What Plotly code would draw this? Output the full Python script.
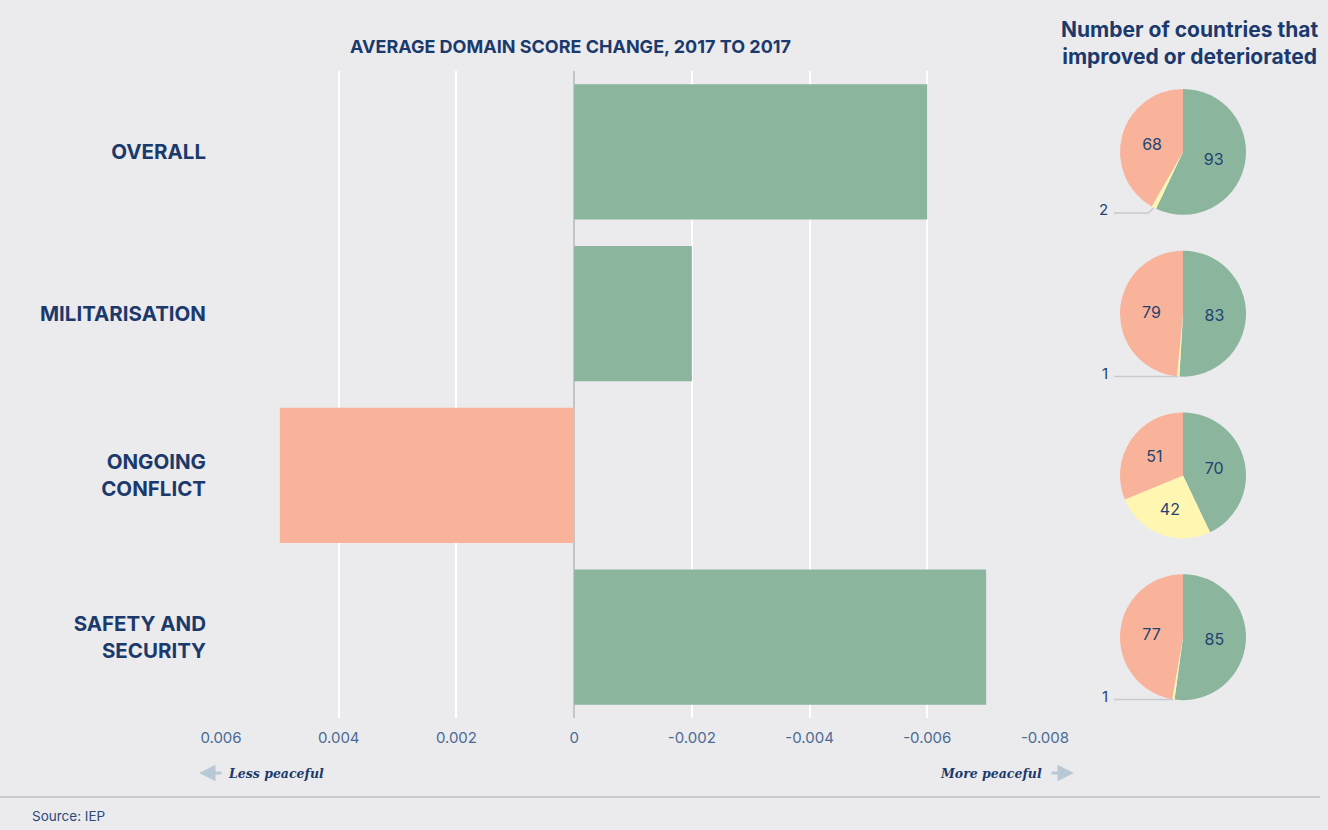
import math
import plotly.graph_objects as go

# data
domains = ["OVERALL", "MILITARISATION", "ONGOING<br>CONFLICT", "SAFETY AND<br>SECURITY"]
score_change = [-0.006, -0.002, 0.005, -0.007]
improved = [93, 83, 70, 85]
no_change = [2, 1, 42, 1]
deteriorated = [68, 79, 51, 77]
tick_vals = [0.006, 0.004, 0.002, 0, -0.002, -0.004, -0.006, -0.008]
tick_text = ["0.006", "0.004", "0.002", "0", "-0.002", "-0.004", "-0.006", "-0.008"]

GREEN = "#8bb59d"
SALMON = "#f8b39a"
YELLOW = "#fff6b2"
NAVY = "#1b3a6b"
TICK = "#4a6a93"
BG = "#ebebee"
SANS = "Inter, Roboto, sans-serif"
SERIF = "DejaVu Serif, Liberation Serif, serif"

# the page ends up 1320 wide in the viewer, so lay out against that
W, H = 1320, 830
ML, MR, MT, MB = 221, 20, 71, 112
PW, PH = W - ML - MR, H - MT - MB
XAX_RIGHT = 1045


def px_x(x):
    return (x - ML) / PW


def px_y(y):
    return (H - MB - y) / PH


fig = go.Figure()

fig.add_trace(go.Bar(
    x=score_change,
    y=domains,
    orientation="h",
    marker=dict(color=[GREEN if v < 0 else SALMON for v in score_change], line=dict(width=0)),
    width=0.835,
    showlegend=False,
    hoverinfo="x+y",
))

# pies, one per domain row
slot = PH / len(domains)
pie_cx = 1183
pie_r = 63
for i, name in enumerate(domains):
    cy = MT + slot * (i + 0.5)
    vals = [improved[i], no_change[i], deteriorated[i]]
    total = sum(vals)
    txt = [str(v) if v / total > 0.05 else "" for v in vals]
    fig.add_trace(go.Pie(
        values=vals,
        labels=["Improved", "No change", "Deteriorated"],
        text=txt,
        textinfo="text",
        textposition="inside",
        insidetextorientation="horizontal",
        textfont=dict(family=SANS, size=16, color="#1f4370"),
        marker=dict(colors=[GREEN, YELLOW, SALMON], line=dict(width=0)),
        sort=False,
        direction="clockwise",
        rotation=0,
        domain=dict(x=[px_x(pie_cx - pie_r), px_x(pie_cx + pie_r)],
                    y=[px_y(cy + pie_r), px_y(cy - pie_r)]),
        showlegend=False,
        hoverinfo="label+value",
    ))

    # leader line for tiny "no change" slices
    if no_change[i] / total <= 0.05:
        mid = (improved[i] + no_change[i] / 2) / total * 2 * math.pi
        ex = pie_cx + pie_r * math.sin(mid)
        ey = cy - pie_r * math.cos(mid)
        ly = max(ey, cy + pie_r * 0.97)
        bend_x = ex - (ly - ey)
        start_x = 1114
        fig.add_shape(
            type="path", xref="paper", yref="paper",
            path=f"M {px_x(start_x)} {px_y(ly)} L {px_x(bend_x)} {px_y(ly)} L {px_x(ex)} {px_y(ey)}",
            line=dict(color="#c9cacd", width=1.5),
        )
        fig.add_annotation(
            x=px_x(start_x - 4), y=px_y(ly - 3), xref="paper", yref="paper",
            text=str(no_change[i]), showarrow=False, xanchor="right", yanchor="middle",
            font=dict(family=SANS, size=15, color="#1f4370"),
        )

fig.update_xaxes(
    range=[0.006, -0.008],
    domain=[0, px_x(XAX_RIGHT)],
    tickvals=tick_vals,
    ticktext=tick_text,
    tickfont=dict(family=SANS, size=15, color=TICK),
    showgrid=True, gridcolor="white", gridwidth=1.5,
    zeroline=True, zerolinecolor="#c4c5c9", zerolinewidth=1.5,
    showline=False, ticks="", ticklabelstandoff=9,
    automargin=False, fixedrange=True,
)
fig.update_yaxes(
    autorange="reversed",
    tickfont=dict(family=SANS, size=20.5, color=NAVY, weight="bold"),
    showgrid=False, zeroline=False, showline=False,
    ticks="", ticklabelstandoff=14,
    automargin=False, fixedrange=True,
)

# titles
fig.add_annotation(
    x=px_x(570), y=px_y(46), xref="paper", yref="paper",
    xanchor="center", yanchor="middle",
    text="<b>AVERAGE DOMAIN SCORE CHANGE, 2017 TO 2017</b>", showarrow=False,
    font=dict(family=SANS, size=18, color=NAVY),
)
fig.add_annotation(
    x=px_x(1189), y=px_y(43), xref="paper", yref="paper",
    xanchor="center", yanchor="middle",
    text="<b>Number of countries that<br>improved or deteriorated</b>", showarrow=False,
    font=dict(family=SANS, size=21, color=NAVY),
)

# direction hints
fig.add_annotation(
    x=px_x(226), y=px_y(773), xref="paper", yref="paper",
    xanchor="left", yanchor="middle",
    text="<b><i>Less peaceful</i></b>", showarrow=False,
    font=dict(family=SERIF, size=12.5, color=NAVY),
)
fig.add_annotation(
    x=px_x(1044), y=px_y(773), xref="paper", yref="paper",
    xanchor="right", yanchor="middle",
    text="<b><i>More peaceful</i></b>", showarrow=False,
    font=dict(family=SERIF, size=12.5, color=NAVY),
)
for x0, x1 in [(223, 199), (1050, 1074)]:
    fig.add_annotation(
        x=px_x(x1), y=px_y(773), ax=x0 - x1, ay=0,
        xref="paper", yref="paper",
        text="", showarrow=True, arrowhead=2, arrowsize=1.1, arrowwidth=3,
        arrowcolor="#b8c9d5",
    )

# source line
fig.add_shape(
    type="line", xref="paper", yref="paper",
    x0=px_x(0), x1=px_x(1328), y0=px_y(797), y1=px_y(797),
    line=dict(color="#c9cacd", width=2),
)
fig.add_annotation(
    x=px_x(30), y=px_y(816), xref="paper", yref="paper",
    xanchor="left", yanchor="middle",
    text="Source: IEP", showarrow=False,
    font=dict(family=SANS, size=13.5, color="#2a4a7a"),
)

fig.update_layout(
    width=W, height=H,
    autosize=False,
    margin=dict(l=ML, r=MR, t=MT, b=MB),
    paper_bgcolor=BG, plot_bgcolor=BG,
    bargap=0.165,
    font=dict(family=SANS),
)

fig.write_html(
    "out.html",
    config={"displayModeBar": False},
    post_script=(
        "document.documentElement.style.background='" + BG + "';"
        "document.body.style.background='" + BG + "';"
        "document.body.style.margin='0px';"
    ),
)
